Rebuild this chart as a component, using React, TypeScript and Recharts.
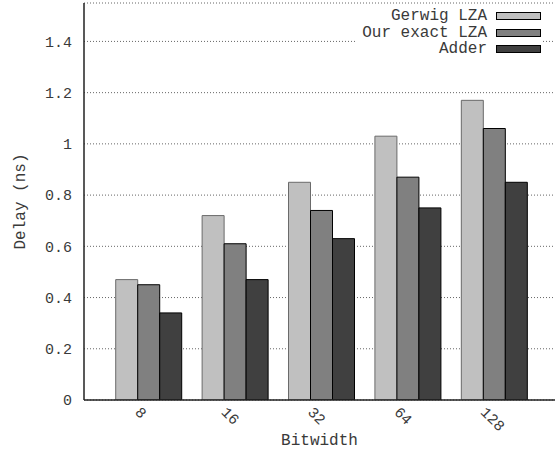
import { BarChart, Bar, XAxis, YAxis, CartesianGrid, Legend } from "recharts";

const bitwidths = ["8", "16", "32", "64", "128"];
const gerwigLza = [0.47, 0.72, 0.85, 1.03, 1.17];
const ourExactLza = [0.45, 0.61, 0.74, 0.87, 1.06];
const adder = [0.34, 0.47, 0.63, 0.75, 0.85];
const yTicks = [0, 0.2, 0.4, 0.6, 0.8, 1, 1.2, 1.4];

const series = [
  { key: "gerwig", name: "Gerwig LZA", fill: "#c0c0c0", stroke: "#6a6a6a" },
  { key: "exact", name: "Our exact LZA", fill: "#808080", stroke: "#000000" },
  { key: "adder", name: "Adder", fill: "#404040", stroke: "#000000" },
];

const data = bitwidths.map((bw, i) => ({
  bw,
  gerwig: gerwigLza[i],
  exact: ourExactLza[i],
  adder: adder[i],
}));

const FONT = "'Liberation Mono', 'DejaVu Sans Mono', monospace";
const TEXT = "#3a3a3a";

const RotatedTick = (props: any) => {
  const { x, y, payload } = props;
  const x0 = x - 14;
  const y0 = y + 5;
  return (
    <text
      x={x0}
      y={y0}
      transform={`rotate(45, ${x0}, ${y0})`}
      textAnchor="start"
      fontFamily={FONT}
      fontSize={15}
      fill={TEXT}
    >
      {payload.value}
    </text>
  );
};

const LegendBox = () => (
  <div
    style={{
      background: "#fff",
      fontFamily: FONT,
      fontSize: 16,
      color: TEXT,
      padding: "2px 0",
    }}
  >
    {series.map((s) => (
      <div
        key={s.key}
        style={{ display: "flex", justifyContent: "flex-end", alignItems: "center", height: 16.5 }}
      >
        <span style={{ whiteSpace: "pre" }}>{s.name}</span>
        <span
          style={{
            display: "inline-block",
            width: 43,
            height: 6,
            marginLeft: 9,
            background: s.fill,
            border: "1px solid #000",
          }}
        />
      </div>
    ))}
  </div>
);

export default function App() {
  return (
    <div style={{ position: "absolute", left: 0, top: 0, background: "#fff" }}>
      <BarChart
        width={555}
        height={449}
        data={data}
        margin={{ top: 3, right: 0, left: 0, bottom: 0 }}
        barCategoryGap="12.4%"
        barGap={0}
      >
        <CartesianGrid vertical={false} stroke="#666" strokeDasharray="1 2" />
        <XAxis
          dataKey="bw"
          height={49}
          padding={{ left: 21, right: 18 }}
          tickLine={false}
          axisLine={{ stroke: "#222", strokeWidth: 1.5 }}
          tick={<RotatedTick />}
          interval={0}
          label={{
            value: "Bitwidth",
            position: "insideBottom",
            offset: 4,
            style: { fontFamily: FONT, fontSize: 16, fill: TEXT },
          }}
        />
        <XAxis
          xAxisId="top"
          dataKey="bw"
          orientation="top"
          height={0}
          tick={false}
          tickLine={false}
          axisLine={{ stroke: "#333", strokeWidth: 2 }}
        />
        <YAxis
          width={84}
          domain={[0, 1.55]}
          ticks={yTicks}
          interval={0}
          allowDataOverflow
          tickSize={0}
          tickMargin={12}
          axisLine={{ stroke: "#222", strokeWidth: 1.5 }}
          tick={{ fontFamily: FONT, fontSize: 15, fill: TEXT }}
          label={{
            value: "Delay (ns)",
            angle: -90,
            position: "center",
            dx: -23,
            style: { fontFamily: FONT, fontSize: 16, fill: TEXT },
          }}
        />
        <Legend
          layout="vertical"
          align="center"
          verticalAlign="middle"
          content={<LegendBox />}
          wrapperStyle={{ top: 6, left: 357, width: 184, right: "auto", bottom: "auto" }}
        />
        {series.map((s) => (
          <Bar
            key={s.key}
            dataKey={s.key}
            name={s.name}
            fill={s.fill}
            stroke={s.stroke}
            strokeWidth={1}
            isAnimationActive={false}
          />
        ))}
      </BarChart>
    </div>
  );
}
